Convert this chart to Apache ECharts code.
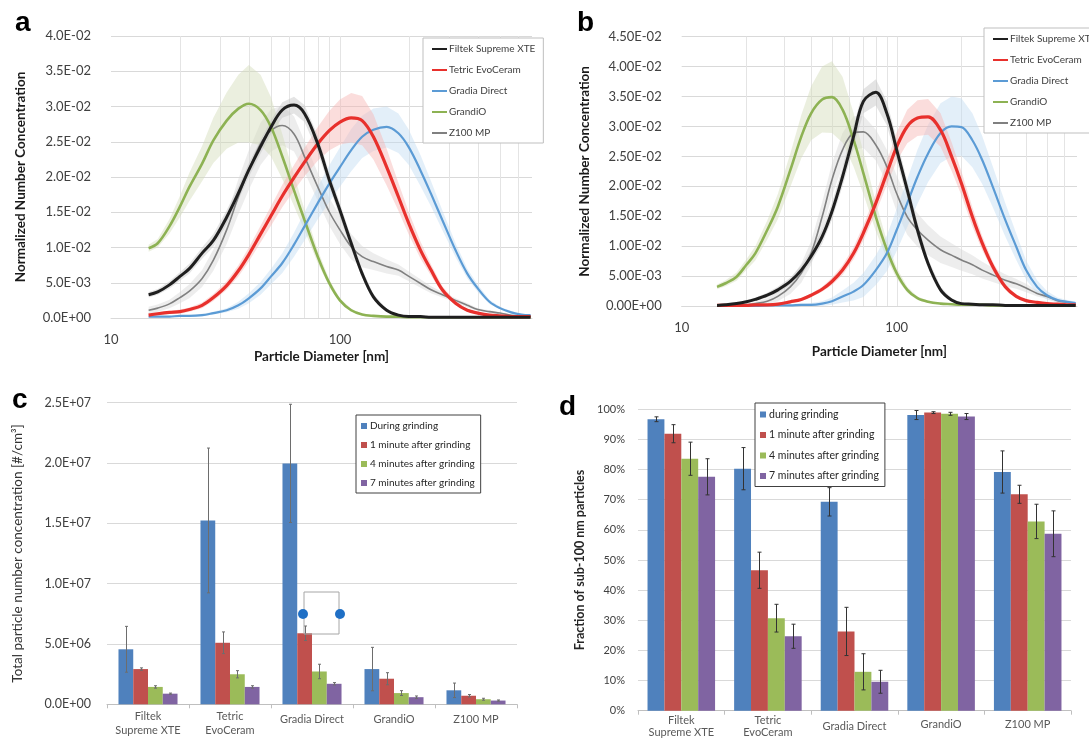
<!DOCTYPE html>
<html><head><meta charset="utf-8">
<script src="https://cdn.jsdelivr.net/npm/echarts@6/dist/echarts.min.js"></script>
<style>html,body{margin:0;padding:0;background:#fff}#c{width:1089px;height:739px}</style>
</head><body><div id="c"></div>
<script>
// ---------- Panels a & b : size distributions ----------
const DIAM = [14.6,16,18,20,22,25,28,32,36,40,45,50,56,63,70,80,90,100,112,125,140,160,180,200,225,250,280,320,360,400,450,500,560,620,680];
const LOG_GRID = [20,30,40,50,60,70,80,90,100,200,300,400,500,600];
const AB_NAMES = ['Filtek Supreme XTE','Tetric EvoCeram','Gradia Direct','GrandiO','Z100 MP'];

const A_FILTEK = [.0033,.0037,.0047,.0059,.0070,.0092,.0110,.0143,.0177,.0210,.0243,.0271,.0295,.0302,.0290,.0247,.0195,.0153,.0106,.0063,.0030,.0011,.0004,.0002,.0002,.0001,.0001,.0001,.0001,.0001,.0001,.0001,.0001,.0001,.0001];
const A_TETRIC = [.0004,.0006,.0008,.0009,.0012,.0018,.0029,.0046,.0067,.0090,.0119,.0145,.0173,.0199,.0221,.0247,.0266,.0278,.0284,.0280,.0257,.0214,.0172,.0134,.0096,.0068,.0040,.0021,.0011,.0007,.0004,.0003,.0002,.0002,.0002];
const A_GRADIA = [.0002,.0002,.0002,.0003,.0003,.0004,.0007,.0011,.0018,.0028,.0042,.0059,.0078,.0104,.0130,.0163,.0191,.0214,.0238,.0257,.0267,.0271,.0262,.0242,.0209,.0176,.0139,.0096,.0063,.0042,.0023,.0014,.0008,.0005,.0004];
const A_GRANDIO = [.0099,.0106,.0130,.0158,.0186,.0219,.0252,.0280,.0297,.0304,.0295,.0271,.0229,.0181,.0139,.0087,.0049,.0025,.0011,.0005,.0003,.0002,.0002,.0001,.0001,.0001,.0001,.0001,.0001,.0001,.0001,.0001,.0001,.0001,.0001];
const A_Z100 = [.0011,.0014,.0020,.0029,.0038,.0056,.0082,.0125,.0172,.0210,.0247,.0266,.0273,.0261,.0229,.0186,.0150,.0125,.0101,.0087,.0080,.0073,.0068,.0059,.0049,.0040,.0033,.0025,.0018,.0012,.0009,.0007,.0004,.0003,.0003];

const EA_FILTEK = [.0004,.0004,.0005,.0006,.0007,.0008,.0009,.0010,.0010,.0010,.0010,.0010,.0011,.0012,.0012,.0012,.0010,.0010,.0008,.0006,.0004,.0002,.0001,.0001,.0001,.0001,.0001,.0001,.0001,.0001,.0001,.0001,.0001,.0001,.0001];
const EA_TETRIC = [.0002,.0002,.0002,.0003,.0003,.0004,.0005,.0006,.0008,.0010,.0012,.0014,.0016,.0018,.0020,.0024,.0028,.0032,.0035,.0035,.0032,.0026,.0020,.0016,.0012,.0008,.0005,.0003,.0002,.0001,.0001,.0001,.0001,.0001,.0001];
const EA_GRADIA = [.0001,.0001,.0001,.0001,.0001,.0002,.0002,.0003,.0005,.0007,.0009,.0011,.0014,.0017,.0020,.0023,.0026,.0028,.0030,.0030,.0030,.0029,.0028,.0025,.0022,.0018,.0014,.0010,.0007,.0005,.0003,.0002,.0002,.0001,.0001];
const EA_GRANDIO = [.0005,.0006,.0010,.0015,.0020,.0025,.0032,.0040,.0048,.0055,.0050,.0042,.0032,.0022,.0015,.0009,.0005,.0003,.0002,.0001,.0001,.0001,.0001,.0001,.0001,.0001,.0001,.0001,.0001,.0001,.0001,.0001,.0001,.0001,.0001];
const EA_Z100 = [.0005,.0005,.0006,.0008,.0010,.0012,.0015,.0020,.0025,.0028,.0030,.0030,.0028,.0025,.0022,.0020,.0020,.0020,.0018,.0015,.0012,.0010,.0008,.0007,.0006,.0005,.0004,.0003,.0003,.0002,.0002,.0001,.0001,.0001,.0001];

const B_FILTEK = [.0001,.0002,.0004,.0007,.0011,.0018,.0027,.0041,.0060,.0083,.0116,.0158,.0216,.0283,.0342,.0357,.0322,.0261,.0194,.0127,.0071,.0027,.0010,.0004,.0003,.0002,.0002,.0001,.0001,.0001,.0001,.0001,.0001,.0001,.0001];
const B_TETRIC = [.0001,.0001,.0001,.0001,.0002,.0002,.0003,.0007,.0011,.0018,.0028,.0041,.0060,.0088,.0122,.0172,.0222,.0266,.0300,.0314,.0316,.0294,.0250,.0205,.0149,.0105,.0066,.0032,.0016,.0009,.0006,.0004,.0003,.0002,.0002];
const B_GRADIA = [0,0,0,0,0,.0001,.0001,.0001,.0002,.0002,.0004,.0008,.0016,.0024,.0035,.0060,.0088,.0127,.0172,.0216,.0255,.0289,.0300,.0299,.0277,.0244,.0199,.0144,.0099,.0060,.0032,.0018,.0010,.0007,.0005];
const B_GRANDIO = [.0032,.0038,.0049,.0069,.0088,.0127,.0166,.0227,.0283,.0322,.0345,.0349,.0328,.0278,.0222,.0149,.0094,.0055,.0027,.0013,.0007,.0004,.0003,.0002,.0002,.0002,.0001,.0001,.0001,.0001,.0001,.0001,.0001,.0001,.0001];
const B_Z100 = [.0001,.0001,.0001,.0002,.0004,.0008,.0016,.0032,.0055,.0088,.0149,.0211,.0261,.0289,.0291,.0269,.0233,.0188,.0149,.0127,.0110,.0094,.0085,.0077,.0069,.0060,.0052,.0043,.0037,.0030,.0021,.0016,.0009,.0006,.0004];

const EB_FILTEK = [.0001,.0001,.0002,.0002,.0003,.0004,.0005,.0006,.0008,.0010,.0012,.0014,.0016,.0018,.0020,.0022,.0020,.0018,.0015,.0012,.0008,.0005,.0003,.0002,.0001,.0001,.0001,.0001,.0001,.0001,.0001,.0001,.0001,.0001,.0001];
const EB_TETRIC = [.0001,.0001,.0001,.0001,.0001,.0001,.0001,.0002,.0002,.0003,.0004,.0006,.0008,.0010,.0013,.0016,.0020,.0024,.0028,.0030,.0030,.0028,.0024,.0020,.0016,.0012,.0008,.0005,.0003,.0002,.0001,.0001,.0001,.0001,.0001];
const EB_GRADIA = [.0001,.0001,.0001,.0001,.0001,.0001,.0001,.0001,.0002,.0003,.0004,.0006,.0010,.0015,.0020,.0025,.0030,.0035,.0040,.0045,.0048,.0050,.0050,.0048,.0045,.0040,.0034,.0028,.0022,.0016,.0011,.0007,.0004,.0003,.0002];
const EB_GRANDIO = [.0004,.0005,.0007,.0009,.0012,.0016,.0021,.0028,.0036,.0045,.0055,.0060,.0055,.0045,.0035,.0024,.0015,.0009,.0005,.0003,.0002,.0001,.0001,.0001,.0001,.0001,.0001,.0001,.0001,.0001,.0001,.0001,.0001,.0001,.0001];
const EB_Z100 = [.0001,.0001,.0001,.0002,.0003,.0005,.0008,.0012,.0016,.0020,.0024,.0027,.0028,.0028,.0027,.0026,.0028,.0030,.0030,.0028,.0025,.0022,.0020,.0018,.0016,.0014,.0012,.0010,.0008,.0007,.0005,.0004,.0003,.0002,.0002];

// ---------- Panels c & d : bars ----------
const CATS = ['Filtek\nSupreme XTE','Tetric\nEvoCeram','Gradia Direct','GrandiO','Z100 MP'];
const C_NAMES = ['During grinding','1 minute after grinding','4 minutes after grinding','7 minutes after grinding'];
const D_NAMES = ['during grinding','1 minute after grinding','4 minutes after grinding','7 minutes after grinding'];

const C_DURING = [4.56e6,15.24e6,19.97e6,2.92e6,1.16e6];
const C_1MIN   = [2.92e6,5.10e6,5.89e6,2.12e6,0.71e6];
const C_4MIN   = [1.44e6,2.49e6,2.72e6,0.93e6,0.42e6];
const C_7MIN   = [0.88e6,1.44e6,1.70e6,0.59e6,0.31e6];
const C_DURING_ERR = [1.9e6,6.0e6,4.9e6,1.8e6,0.6e6];
const C_1MIN_ERR   = [0.1e6,0.9e6,0.6e6,0.5e6,0.1e6];
const C_4MIN_ERR   = [0.1e6,0.3e6,0.6e6,0.2e6,0.08e6];
const C_7MIN_ERR   = [0.05e6,0.1e6,0.1e6,0.1e6,0.05e6];

const D_DURING = [96.7,80.3,69.3,98.1,79.2];
const D_1MIN   = [91.9,46.6,26.3,98.9,71.8];
const D_4MIN   = [83.6,30.7,12.9,98.5,62.8];
const D_7MIN   = [77.6,24.7,9.6,97.6,58.7];
const D_DURING_ERR = [0.8,7,4.7,1.5,7];
const D_1MIN_ERR   = [3,6,8,0.3,3];
const D_4MIN_ERR   = [5.5,4.6,6,0.5,5.7];
const D_7MIN_ERR   = [6,4,3.8,1,7.6];

// ---------- styling ----------
const FONT = 'Lato, "Liberation Sans", sans-serif';
const AB_COLORS = ['#1f1f1f','#e8302c','#5b9bd5','#8db253','#808080'];
const AB_BAND   = ['#c4c4c4','#f7b4b1','#c2dbf2','#d3dcb8','#d6d6d6'];
const AB_WIDTH  = [3,3.2,2.2,2.6,1.6];
const BAR_COLORS = ['#4f81bd','#c0504d','#9bbb59','#8064a2'];

function fmtExp(digits){
  return function(v){
    if (Math.abs(v) < 1e-15) return (0).toFixed(digits) + 'E+00';
    let e = Math.floor(Math.log10(Math.abs(v)) + 1e-9);
    let m = v / Math.pow(10, e);
    if (m >= 9.99995) { m /= 10; e += 1; }
    return m.toFixed(digits) + 'E' + (e < 0 ? '-' : '+') + String(Math.abs(e)).padStart(2, '0');
  };
}
function logLabel(v){
  const l = Math.log10(v);
  return Math.abs(l - Math.round(l)) < 1e-6 ? String(Math.round(v)) : '';
}

function gridLines(ai, ymax){
  return {type:'custom', xAxisIndex:ai, yAxisIndex:ai, silent:true, z:0,
    data: LOG_GRID.map(v => [v, 0]),
    renderItem: (p, api) => {
      const a = api.coord([api.value(0), 0]), b = api.coord([api.value(0), ymax]);
      const x = Math.round(a[0]) + 0.5;
      return {type:'line', shape:{x1:x, y1:a[1], x2:x, y2:b[1]}, style:{stroke:'#e4e4e4', lineWidth:1}};
    }};
}
function band(ai, ys, es, color){
  return {type:'custom', xAxisIndex:ai, yAxisIndex:ai, silent:true, z:1,
    data: [[DIAM[0], ys[0]]],
    renderItem: (p, api) => {
      const up = [], lo = [];
      for (let i = 0; i < DIAM.length; i++) {
        up.push(api.coord([DIAM[i], ys[i] + es[i]]));
        lo.push(api.coord([DIAM[i], Math.max(0, ys[i] - es[i])]));
      }
      return {type:'polygon', shape:{points: up.concat(lo.reverse())}, style:{fill:color, opacity:0.45}};
    }};
}
function line(ai, name, ys, color, width){
  return {type:'line', name, xAxisIndex:ai, yAxisIndex:ai, z:3,
    data: DIAM.map((d, i) => [d, ys[i]]),
    showSymbol:false, symbol:'none', smooth:0.35,
    lineStyle:{color, width}, itemStyle:{color}};
}
function errBars(ai, vals, errs, sIdx, gap, color, cap){
  return {type:'custom', xAxisIndex:ai, yAxisIndex:ai, silent:true, z:5,
    data: vals.map((v, i) => [i, v, errs[i]]),
    renderItem: (p, api) => {
      const i = api.value(0), v = api.value(1), e = api.value(2);
      const bandW = api.size([1, 0])[0];
      const bw = bandW * (1 - gap) / 4;
      const c = api.coord([i, v]);
      const x = Math.round(c[0] + (sIdx - 1.5) * bw) + 0.5;
      const yt = api.coord([i, v + e])[1], yb = api.coord([i, Math.max(0, v - e)])[1];
      const st = {stroke:color, lineWidth:1};
      return {type:'group', children:[
        {type:'line', shape:{x1:x, y1:yt, x2:x, y2:yb}, style:st},
        {type:'line', shape:{x1:x-cap, y1:yt, x2:x+cap, y2:yt}, style:st},
        {type:'line', shape:{x1:x-cap, y1:yb, x2:x+cap, y2:yb}, style:st}
      ]};
    }};
}

const series = [];
series.push(gridLines(0, 0.04), gridLines(1, 0.045));
const A_ALL = [A_FILTEK, A_TETRIC, A_GRADIA, A_GRANDIO, A_Z100];
const EA_ALL = [EA_FILTEK, EA_TETRIC, EA_GRADIA, EA_GRANDIO, EA_Z100];
const B_ALL = [B_FILTEK, B_TETRIC, B_GRADIA, B_GRANDIO, B_Z100];
const EB_ALL = [EB_FILTEK, EB_TETRIC, EB_GRADIA, EB_GRANDIO, EB_Z100];
const ORDER = [4, 3, 2, 1, 0];
ORDER.forEach(k => series.push(band(0, A_ALL[k], EA_ALL[k], AB_BAND[k])));
ORDER.forEach(k => series.push(line(0, AB_NAMES[k], A_ALL[k], AB_COLORS[k], AB_WIDTH[k])));
ORDER.forEach(k => series.push(band(1, B_ALL[k], EB_ALL[k], AB_BAND[k])));
ORDER.forEach(k => series.push(line(1, AB_NAMES[k], B_ALL[k], AB_COLORS[k], AB_WIDTH[k])));

const C_VALS = [C_DURING, C_1MIN, C_4MIN, C_7MIN];
const C_ERRS = [C_DURING_ERR, C_1MIN_ERR, C_4MIN_ERR, C_7MIN_ERR];
const D_VALS = [D_DURING, D_1MIN, D_4MIN, D_7MIN];
const D_ERRS = [D_DURING_ERR, D_1MIN_ERR, D_4MIN_ERR, D_7MIN_ERR];
const C_GAP = 0.28, D_GAP = 0.22;
for (let s = 0; s < 4; s++) {
  series.push({type:'bar', name:C_NAMES[s], xAxisIndex:2, yAxisIndex:2, data:C_VALS[s],
    barGap:'0%', barCategoryGap:(C_GAP*100)+'%', itemStyle:{color:BAR_COLORS[s]}, z:2});
}
for (let s = 0; s < 4; s++) series.push(errBars(2, C_VALS[s], C_ERRS[s], s, C_GAP, '#6d6d6d', 1.5));
for (let s = 0; s < 4; s++) {
  series.push({type:'bar', name:D_NAMES[s], xAxisIndex:3, yAxisIndex:3, data:D_VALS[s],
    barGap:'0%', barCategoryGap:(D_GAP*100)+'%', itemStyle:{color:BAR_COLORS[s]}, z:2});
}
for (let s = 0; s < 4; s++) series.push(errBars(3, D_VALS[s], D_ERRS[s], s, D_GAP, '#333333', 2));

const AX_LBL = '#404040';
const gridLineStyle = {lineStyle:{color:'#d9d9d9', width:1}};

function logX(gi, nameGap){
  return {gridIndex:gi, type:'log', logBase:10, min:10, max:690,
    axisLine:{show:true, lineStyle:{color:'#d9d9d9'}}, axisTick:{show:false},
    splitLine:{show:false}, minorTick:{show:false}, minorSplitLine:{show:false},
    axisLabel:{formatter:logLabel, color:AX_LBL, fontSize:13, margin:15, showMaxLabel:false, fontFamily:FONT},
    name:'Particle Diameter [nm]', nameLocation:'middle', nameGap,
    nameTextStyle:{fontSize:13.5, fontWeight:'bold', color:'#1a1a1a', fontFamily:FONT}};
}
function valY(gi, max, interval, fmt, fs, margin, name, nameGap, nameStyle){
  return {gridIndex:gi, type:'value', min:0, max, interval,
    axisLine:{show:false}, axisTick:{show:false}, splitLine:gridLineStyle,
    axisLabel:{formatter:fmt, color:AX_LBL, fontSize:fs, margin, fontFamily:FONT},
    name, nameLocation:'middle', nameGap, nameTextStyle:Object.assign({fontFamily:FONT}, nameStyle)};
}
function catX(gi, fmt, margin, lh){
  return {gridIndex:gi, type:'category', data:CATS,
    axisLine:{show:true, lineStyle:{color:'#bfbfbf'}},
    axisTick:{show:true, length:4, alignWithLabel:false, lineStyle:{color:'#bfbfbf'}},
    splitLine:{show:false},
    axisLabel:{interval:0, color:'#595959', fontSize:11, lineHeight:lh, margin, fontFamily:FONT, formatter:fmt,
      rich:{mid:{fontSize:11, color:'#595959', fontFamily:FONT, padding:[7,0,0,0]},
            low:{fontSize:11, color:'#595959', fontFamily:FONT, padding:[12,0,0,0]}}}};
}

const lineLegend = (left, top) => ({
  left, top, orient:'vertical', data:AB_NAMES, icon:'rect', itemWidth:15, itemHeight:2, itemGap:9,
  padding:[5,8,4,9], borderColor:'#bfbfbf', borderWidth:1, backgroundColor:'#fff',
  textStyle:{fontSize:10, lineHeight:12, color:'#404040', fontFamily:FONT, padding:[0,0,0,-3]}
});
const barLegend = (names, left, top, fs, lh, gap) => ({
  left, top, orient:'vertical', data:names, icon:'rect', itemWidth:6, itemHeight:6, itemGap:gap,
  padding:[5,6,4,5], borderColor:'#404040', borderWidth:1, backgroundColor:'#fff',
  textStyle:{fontSize:fs, lineHeight:lh, color:'#262626', fontFamily:FONT, padding:[0,0,0,-2]}
});

const letter = (t, x, y) => ({type:'text', x, y, style:{text:t, fill:'#000', font:'bold 28px "Liberation Sans", Arial, sans-serif', verticalAlign:'bottom'}});

const option = {
  animation:false,
  backgroundColor:'#fff',
  textStyle:{fontFamily:FONT},
  grid:[
    {left:111, top:36, width:421, height:282, outerBoundsMode:'none'},
    {left:681.7, top:36.7, width:395.3, height:269.3, outerBoundsMode:'none'},
    {left:107, top:402.7, width:410, height:301.6, outerBoundsMode:'none'},
    {left:638, top:409.3, width:433, height:301.4, outerBoundsMode:'none'}
  ],
  xAxis:[
    logX(0, 32),
    logX(1, 39),
    catX(2, v => v.indexOf('\n') >= 0 ? v : '{mid|' + v + '}', 5, 14),
    catX(3, v => v.indexOf('\n') >= 0 ? v : (v === 'Gradia Direct' ? '{low|' + v + '}' : '{mid|' + v + '}'), 4, 12)
  ],
  yAxis:[
    valY(0, 0.04, 0.005, fmtExp(1), 13, 20, 'Normalized Number Concentration', 83, {fontSize:13.5, fontWeight:'bold', color:'#1a1a1a'}),
    valY(1, 0.045, 0.005, fmtExp(2), 13, 20, 'Normalized Number Concentration', 90, {fontSize:13.5, fontWeight:'bold', color:'#1a1a1a'}),
    valY(2, 2.5e7, 5e6, fmtExp(1), 12.5, 16, 'Total particle number concentration [#/cm³]', 82, {fontSize:13.5, color:'#333'}),
    valY(3, 100, 10, '{value}%', 11, 13, 'Fraction of sub-100 nm particles', 52, {fontSize:12.5, fontWeight:'bold', color:'#262626'})
  ],
  legend:[
    lineLegend(423, 38),
    lineLegend(984, 28),
    barLegend(C_NAMES, 356, 415, 10, 12, 7),
    barLegend(D_NAMES, 755, 403, 10.5, 13, 7.5)
  ],
  graphic:[
    letter('a', 15, 37), letter('b', 577, 37), letter('c', 12, 414), letter('d', 559, 421),
    {type:'rect', shape:{x:304, y:592, width:35, height:42}, style:{fill:'none', stroke:'#a6a6a6', lineWidth:1}, z:10},
    {type:'circle', shape:{cx:303, cy:614, r:5}, style:{fill:'#1f6fc5'}, z:11},
    {type:'circle', shape:{cx:340, cy:614, r:5}, style:{fill:'#1f6fc5'}, z:11}
  ],
  series
};

const chart = echarts.init(document.getElementById('c'));
chart.setOption(option);
</script></body></html>
